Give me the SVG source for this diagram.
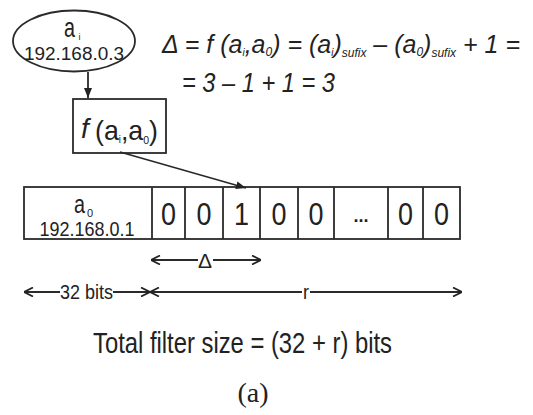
<svg xmlns="http://www.w3.org/2000/svg" width="533" height="415" viewBox="0 0 533 415">
<style>
  .ln{stroke:#2a2a2a;stroke-width:1.8;fill:none}
  .t{font-family:"Liberation Sans",Arial,sans-serif;fill:#222}
  .it{font-family:"Liberation Sans",Arial,sans-serif;font-style:italic;fill:#222}
  .dg{font-family:"Liberation Sans",Arial,sans-serif;font-size:31px;fill:#222;text-anchor:middle}
</style>
<defs>
  <marker id="fa" viewBox="0 0 10 10" refX="10" refY="5" markerWidth="10" markerHeight="10" markerUnits="userSpaceOnUse" orient="auto">
    <path d="M0,1 L10,5 L0,9 Z" fill="#222"/>
  </marker>
  <marker id="oa" viewBox="0 0 10 10" refX="10" refY="5" markerWidth="10" markerHeight="10" markerUnits="userSpaceOnUse" orient="auto-start-reverse">
    <path d="M1,0.5 L10,5 L1,9.5" fill="none" stroke="#222" stroke-width="1.8"/>
  </marker>
</defs>

<g id="node-ai">
  <ellipse cx="74" cy="41" rx="61" ry="30.5" class="ln" stroke-width="2"/>
  <text class="t" x="64" y="37" font-size="28" textLength="11" lengthAdjust="spacingAndGlyphs">a</text>
  <text class="t" x="78.5" y="40" font-size="9">i</text>
  <text class="t" x="74" y="60" font-size="18" text-anchor="middle" textLength="100" lengthAdjust="spacingAndGlyphs">192.168.0.3</text>
</g>

<g id="node-f">
  <rect x="73" y="99" width="93" height="54" class="ln" stroke-width="2"/>
  <text class="it" x="81" y="138" font-size="28">f</text>
  <text class="t" x="95" y="140" font-size="28" textLength="63" lengthAdjust="spacingAndGlyphs">(a<tspan font-size="10" dy="3">i</tspan><tspan dy="-3">,a</tspan><tspan font-size="11" dy="4">0</tspan><tspan dy="-4">)</tspan></text>
</g>

<g id="formula">
  <text class="it" x="162" y="53" font-size="25" textLength="358" lengthAdjust="spacingAndGlyphs">Δ = f (a<tspan font-size="10" dy="3">i</tspan><tspan dy="-3">,a</tspan><tspan font-size="12" dy="3">0</tspan><tspan dy="-3">) = (a</tspan><tspan font-size="10" dy="3">i</tspan><tspan dy="-3">)</tspan><tspan font-size="12" dy="4">sufix</tspan><tspan dy="-4"> – (a</tspan><tspan font-size="12" dy="3">0</tspan><tspan dy="-3">)</tspan><tspan font-size="12" dy="4">sufix</tspan><tspan dy="-4"> + 1 =</tspan></text>
  <text class="it" x="182" y="92" font-size="27" textLength="153" lengthAdjust="spacingAndGlyphs">= 3 – 1 + 1 = 3</text>
</g>

<g id="node-array">
  <rect x="24" y="187" width="436" height="52" class="ln" stroke-width="2"/>
  <path class="ln" d="M152,187V239 M185,187V239 M223,187V239 M260,187V239 M298,187V239 M334,187V239 M388,187V239 M423,187V239"/>
  <text class="t" x="74" y="213" font-size="26" textLength="11" lengthAdjust="spacingAndGlyphs">a</text>
  <text class="t" x="87" y="217" font-size="11">0</text>
  <text class="t" x="87" y="236" font-size="20" text-anchor="middle" textLength="95" lengthAdjust="spacingAndGlyphs">192.168.0.1</text>
  <text class="dg" x="168.5" y="225" textLength="15" lengthAdjust="spacingAndGlyphs">0</text>
  <text class="dg" x="204" y="225" textLength="15" lengthAdjust="spacingAndGlyphs">0</text>
  <text class="dg" x="241.5" y="225" textLength="15" lengthAdjust="spacingAndGlyphs">1</text>
  <text class="dg" x="279" y="225" textLength="15" lengthAdjust="spacingAndGlyphs">0</text>
  <text class="dg" x="316" y="225" textLength="15" lengthAdjust="spacingAndGlyphs">0</text>
  <text class="t" x="361" y="222" font-size="18" font-weight="bold" text-anchor="middle">...</text>
  <text class="dg" x="405.5" y="225" textLength="15" lengthAdjust="spacingAndGlyphs">0</text>
  <text class="dg" x="441.5" y="225" textLength="15" lengthAdjust="spacingAndGlyphs">0</text>
</g>

<g id="connectors">
  <line class="ln" x1="88" y1="72" x2="88" y2="98" marker-end="url(#fa)"/>
  <line class="ln" x1="120" y1="152" x2="246" y2="188" marker-end="url(#fa)"/>
  <line class="ln" x1="151" y1="260" x2="198" y2="260" marker-start="url(#oa)"/>
  <line class="ln" x1="213" y1="260" x2="261" y2="260" marker-end="url(#oa)"/>
  <text class="t" x="205" y="268" font-size="20" text-anchor="middle" textLength="14" lengthAdjust="spacingAndGlyphs">Δ</text>
  <line class="ln" x1="24" y1="292" x2="60" y2="292" marker-start="url(#oa)"/>
  <line class="ln" x1="113" y1="292" x2="150" y2="292" marker-end="url(#oa)"/>
  <text class="t" x="60" y="299" font-size="21" textLength="53" lengthAdjust="spacingAndGlyphs">32 bits</text>
  <line class="ln" x1="150" y1="292" x2="302" y2="292" marker-start="url(#oa)"/>
  <line class="ln" x1="310" y1="292" x2="462" y2="292" marker-end="url(#oa)"/>
  <text class="t" x="306" y="299" font-size="20" text-anchor="middle" textLength="6" lengthAdjust="spacingAndGlyphs">r</text>
</g>

<g id="caption">
  <text class="t" x="93" y="353" font-size="30" textLength="299" lengthAdjust="spacingAndGlyphs">Total filter size = (32 + r) bits</text>
  <text x="253" y="402" font-family="Liberation Serif,Times New Roman,serif" font-size="28" fill="#222" text-anchor="middle">(a)</text>
</g>
</svg>
